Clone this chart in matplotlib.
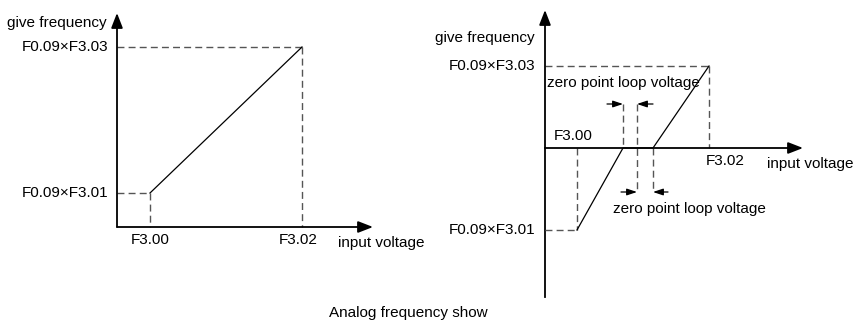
"""
Analog frequency setting curves (two schematic diagrams), redrawn in matplotlib.
Coordinates are in reference-image pixels (x to the right, y downward).
"""
import matplotlib
matplotlib.use("Agg")
import matplotlib.pyplot as plt

plt.rcParams['font.family'] = ['Liberation Sans', 'DejaVu Sans']

W, H = 855, 321

# --- left diagram: axis origin, levels and break points ---
L_ORIGIN = (117, 227)
L_AXIS_END = (373, 13)
L_F300, L_F302 = 150, 302
L_F301, L_F303 = 193, 47
left_curve_x = [L_F300, L_F302]
left_curve_y = [L_F301, L_F303]

# --- right diagram ---
R_ORIGIN_X, R_ZERO_Y = 545, 148
R_AXIS_TOP, R_AXIS_BOTTOM, R_AXIS_RIGHT = 10, 297, 803
R_F300, R_F302 = 577, 709
R_F301, R_F303 = 230, 66
R_DEAD_A, R_DEAD_MID, R_DEAD_B = 623, 637, 653
right_curve_x = [R_F300, R_DEAD_A, R_DEAD_B, R_F302]
right_curve_y = [R_F301, R_ZERO_Y, R_ZERO_Y, R_F303]
dead_top_y, dead_bottom_y = 104, 192

FS = 11
DASH = dict(color='#555555', lw=1.0, ls=(0, (5, 3)))
SOLID = dict(color='black', lw=0.9)
AXIS = dict(color='black', lw=1.3)

fig = plt.figure(figsize=(W / 100, H / 100), dpi=100)
ax = fig.add_axes([0, 0, 1, 1])
ax.set_xlim(0, W)
ax.set_ylim(H, 0)
ax.axis('off')


def axis_arrow(x0, y0, x1, y1):
    ax.annotate('', xy=(x1, y1), xytext=(x0, y0),
                arrowprops=dict(arrowstyle='-|>,head_length=0.9,head_width=0.35',
                                color='black', lw=1.3, shrinkA=0, shrinkB=0))


def small_arrow(x_from, x_to, y):
    ax.annotate('', xy=(x_to, y), xytext=(x_from, y),
                arrowprops=dict(arrowstyle='-|>,head_length=0.6,head_width=0.2',
                                color='black', lw=0.9, shrinkA=0, shrinkB=0))


# ========================= left diagram =========================
ox, oy = L_ORIGIN
axis_arrow(ox, oy, ox, L_AXIS_END[1])
axis_arrow(ox, oy, L_AXIS_END[0], oy)
ax.plot([ox, L_F300], [L_F301, L_F301], **DASH)
ax.plot([L_F300, L_F300], [L_F301, oy], **DASH)
ax.plot([ox, L_F302], [L_F303, L_F303], **DASH)
ax.plot([L_F302, L_F302], [L_F303, oy], **DASH)
ax.plot(left_curve_x, left_curve_y, **SOLID)

ax.text(107, 23, 'give frequency', fontsize=FS, ha='right', va='center')
ax.text(108, L_F303, 'F0.09×F3.03', fontsize=FS, ha='right', va='center')
ax.text(108, L_F301, 'F0.09×F3.01', fontsize=FS, ha='right', va='center')
ax.text(L_F300, 240, 'F3.00', fontsize=FS, ha='center', va='center')
ax.text(L_F302 - 4, 240, 'F3.02', fontsize=FS, ha='center', va='center')
ax.text(338, 243, 'input voltage', fontsize=FS, ha='left', va='center')

# ========================= right diagram =========================
ax.plot([R_ORIGIN_X, R_ORIGIN_X], [R_AXIS_BOTTOM, R_ZERO_Y], **AXIS)
axis_arrow(R_ORIGIN_X, R_ZERO_Y, R_ORIGIN_X, R_AXIS_TOP)
axis_arrow(R_ORIGIN_X, R_ZERO_Y, R_AXIS_RIGHT, R_ZERO_Y)

ax.plot([R_ORIGIN_X, R_F302], [R_F303, R_F303], **DASH)
ax.plot([R_F302, R_F302], [R_F303, R_ZERO_Y], **DASH)
ax.plot([R_ORIGIN_X, R_F300], [R_F301, R_F301], **DASH)
ax.plot([R_F300, R_F300], [R_ZERO_Y, R_F301], **DASH)
ax.plot(right_curve_x, right_curve_y, **SOLID)

# zero point loop (dead band) markers
ax.plot([R_DEAD_A, R_DEAD_A], [dead_top_y, R_ZERO_Y], **DASH)
ax.plot([R_DEAD_MID, R_DEAD_MID], [dead_top_y, dead_bottom_y], **DASH)
ax.plot([R_DEAD_B, R_DEAD_B], [R_ZERO_Y, dead_bottom_y], **DASH)
small_arrow(607, R_DEAD_A, dead_top_y)
small_arrow(653, R_DEAD_MID, dead_top_y)
small_arrow(621, R_DEAD_MID, dead_bottom_y)
small_arrow(668, R_DEAD_B, dead_bottom_y)

ax.text(535, 38, 'give frequency', fontsize=FS, ha='right', va='center')
ax.text(535, R_F303, 'F0.09×F3.03', fontsize=FS, ha='right', va='center')
ax.text(535, R_F301, 'F0.09×F3.01', fontsize=FS, ha='right', va='center')
ax.text(547, 83, 'zero point loop voltage', fontsize=FS, ha='left', va='center')
ax.text(613, 209, 'zero point loop voltage', fontsize=FS, ha='left', va='center')
ax.text(573, 136, 'F3.00', fontsize=FS, ha='center', va='center')
ax.text(725, 161, 'F3.02', fontsize=FS, ha='center', va='center')
ax.text(767, 164, 'input voltage', fontsize=FS, ha='left', va='center')

ax.text(408, 313, 'Analog frequency show', fontsize=FS, ha='center', va='center')

fig.savefig('out.png', dpi=100)
